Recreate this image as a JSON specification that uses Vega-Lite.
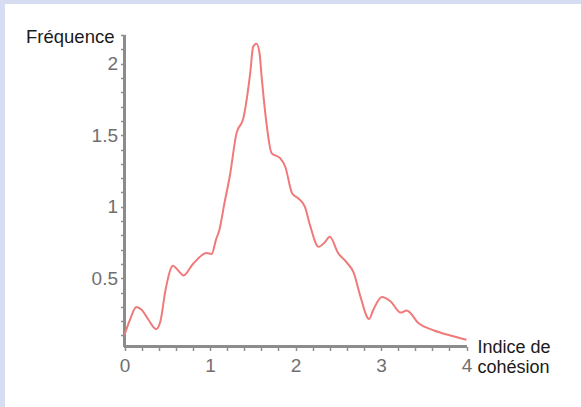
{
  "$schema": "https://vega.github.io/schema/vega-lite/v6.json",
  "width": 576,
  "height": 403,
  "autosize": {"type": "none"},
  "padding": {"left": 5, "top": 4, "right": 0, "bottom": 0},
  "background": "#d6ddf2",
  "config": {"view": {"fill": "white", "stroke": null}, "font": "Liberation Sans"},
  "data": {
    "values": [
      {"x": 0, "y": 0.105}, {"x": 0.07, "y": 0.22}, {"x": 0.137, "y": 0.3}, {"x": 0.2, "y": 0.28},
      {"x": 0.28, "y": 0.21}, {"x": 0.37, "y": 0.145}, {"x": 0.42, "y": 0.2}, {"x": 0.48, "y": 0.42},
      {"x": 0.567, "y": 0.587}, {"x": 0.62, "y": 0.56}, {"x": 0.69, "y": 0.52}, {"x": 0.8, "y": 0.6},
      {"x": 0.96, "y": 0.676}, {"x": 1.02, "y": 0.67}, {"x": 1.07, "y": 0.77}, {"x": 1.11, "y": 0.84},
      {"x": 1.17, "y": 1.03}, {"x": 1.23, "y": 1.21}, {"x": 1.31, "y": 1.515}, {"x": 1.39, "y": 1.62},
      {"x": 1.47, "y": 1.935}, {"x": 1.505, "y": 2.12}, {"x": 1.545, "y": 2.14}, {"x": 1.58, "y": 2.07},
      {"x": 1.6, "y": 1.935}, {"x": 1.66, "y": 1.585}, {"x": 1.72, "y": 1.375}, {"x": 1.82, "y": 1.34},
      {"x": 1.88, "y": 1.28}, {"x": 1.96, "y": 1.095}, {"x": 2.03, "y": 1.06}, {"x": 2.11, "y": 1.0},
      {"x": 2.17, "y": 0.87}, {"x": 2.27, "y": 0.72}, {"x": 2.34, "y": 0.75}, {"x": 2.4, "y": 0.79},
      {"x": 2.5, "y": 0.675}, {"x": 2.6, "y": 0.61}, {"x": 2.68, "y": 0.54}, {"x": 2.76, "y": 0.37},
      {"x": 2.86, "y": 0.215}, {"x": 2.91, "y": 0.28}, {"x": 3.01, "y": 0.37}, {"x": 3.11, "y": 0.34},
      {"x": 3.23, "y": 0.26}, {"x": 3.3, "y": 0.275}, {"x": 3.44, "y": 0.185}, {"x": 3.62, "y": 0.135},
      {"x": 3.81, "y": 0.1}, {"x": 4.0, "y": 0.07}
    ]
  },
  "layer": [
    {
      "mark": {"type": "rule", "color": "#8c8c8c", "strokeWidth": 2},
      "encoding": {
        "x": {
          "datum": 0, "type": "quantitative",
          "scale": {"domain": [-1.398, 5.339], "nice": false, "zero": false},
          "axis": {
            "orient": "bottom", "offset": -60.5, "domain": false, "grid": false,
            "values": [0, 0.2, 0.4, 0.6, 0.8, 1, 1.2, 1.4, 1.6, 1.8, 2, 2.2, 2.4, 2.6, 2.8, 3, 3.2, 3.4, 3.6, 3.8, 4],
            "labelExpr": "abs(datum.value-round(datum.value))<0.001 ? format(datum.value,'d') : ''",
            "tickSize": 4,
            "tickColor": "#8c8c8c", "tickWidth": 1.5,
            "labelColor": "#707070", "labelFontSize": 19, "labelPadding": 6,
            "labelFlush": false, "labelOverlap": false,
            "title": ["Indice de", "cohésion"],
            "titleX": 472, "titleY": -8, "titleAlign": "left", "titleBaseline": "top",
            "titleFontSize": 18, "titleFontWeight": "normal", "titleColor": "#1a1a1a"
          }
        },
        "x2": {"datum": 4},
        "y": {
          "datum": 0.023, "type": "quantitative",
          "scale": {"domain": [-0.4, 2.418], "nice": false, "zero": false},
          "axis": {
            "orient": "left", "offset": -119.5, "domain": false, "grid": false,
            "values": [0.1, 0.2, 0.3, 0.4, 0.5, 0.6, 0.7, 0.8, 0.9, 1, 1.1, 1.2, 1.3, 1.4, 1.5, 1.6, 1.7, 1.8, 1.9, 2, 2.1, 2.2],
            "labelExpr": "abs(datum.value*2-round(datum.value*2))<0.001 ? format(datum.value,'~g') : ''",
            "tickSize": 4,
            "tickColor": "#8c8c8c", "tickWidth": 1.5,
            "labelColor": "#707070", "labelFontSize": 19, "labelPadding": 3,
            "labelFlush": false, "labelOverlap": false,
            "title": "Fréquence", "titleAngle": 0,
            "titleX": -10.5, "titleY": 32, "titleAlign": "right", "titleBaseline": "middle",
            "titleFontSize": 18.5, "titleFontWeight": "normal", "titleColor": "#1a1a1a"
          }
        }
      }
    },
    {
      "mark": {"type": "rule", "color": "#8c8c8c", "strokeWidth": 2},
      "encoding": {
        "x": {
          "datum": 0, "type": "quantitative",
          "scale": {"domain": [-1.398, 5.339], "nice": false, "zero": false},
          "axis": {
            "orient": "bottom", "offset": -60.5, "domain": false, "grid": false,
            "values": [0, 0.2, 0.4, 0.6, 0.8, 1, 1.2, 1.4, 1.6, 1.8, 2, 2.2, 2.4, 2.6, 2.8, 3, 3.2, 3.4, 3.6, 3.8, 4],
            "labelExpr": "abs(datum.value-round(datum.value))<0.001 ? format(datum.value,'d') : ''",
            "tickSize": 4,
            "tickColor": "#8c8c8c", "tickWidth": 1.5,
            "labelColor": "#707070", "labelFontSize": 19, "labelPadding": 6,
            "labelFlush": false, "labelOverlap": false,
            "title": ["Indice de", "cohésion"],
            "titleX": 472, "titleY": -8, "titleAlign": "left", "titleBaseline": "top",
            "titleFontSize": 18, "titleFontWeight": "normal", "titleColor": "#1a1a1a"
          }
        },
        "y": {
          "datum": 0.023, "type": "quantitative",
          "scale": {"domain": [-0.4, 2.418], "nice": false, "zero": false},
          "axis": {
            "orient": "left", "offset": -119.5, "domain": false, "grid": false,
            "values": [0.1, 0.2, 0.3, 0.4, 0.5, 0.6, 0.7, 0.8, 0.9, 1, 1.1, 1.2, 1.3, 1.4, 1.5, 1.6, 1.7, 1.8, 1.9, 2, 2.1, 2.2],
            "labelExpr": "abs(datum.value*2-round(datum.value*2))<0.001 ? format(datum.value,'~g') : ''",
            "tickSize": 4,
            "tickColor": "#8c8c8c", "tickWidth": 1.5,
            "labelColor": "#707070", "labelFontSize": 19, "labelPadding": 3,
            "labelFlush": false, "labelOverlap": false,
            "title": "Fréquence", "titleAngle": 0,
            "titleX": -10.5, "titleY": 32, "titleAlign": "right", "titleBaseline": "middle",
            "titleFontSize": 18.5, "titleFontWeight": "normal", "titleColor": "#1a1a1a"
          }
        },
        "y2": {"datum": 2.2}
      }
    },
    {
      "mark": {"type": "line", "color": "#f07a7a", "strokeWidth": 2, "interpolate": "monotone"},
      "encoding": {
        "x": {
          "field": "x", "type": "quantitative",
          "scale": {"domain": [-1.398, 5.339], "nice": false, "zero": false},
          "axis": {
            "orient": "bottom", "offset": -60.5, "domain": false, "grid": false,
            "values": [0, 0.2, 0.4, 0.6, 0.8, 1, 1.2, 1.4, 1.6, 1.8, 2, 2.2, 2.4, 2.6, 2.8, 3, 3.2, 3.4, 3.6, 3.8, 4],
            "labelExpr": "abs(datum.value-round(datum.value))<0.001 ? format(datum.value,'d') : ''",
            "tickSize": 4,
            "tickColor": "#8c8c8c", "tickWidth": 1.5,
            "labelColor": "#707070", "labelFontSize": 19, "labelPadding": 6,
            "labelFlush": false, "labelOverlap": false,
            "title": ["Indice de", "cohésion"],
            "titleX": 472, "titleY": -8, "titleAlign": "left", "titleBaseline": "top",
            "titleFontSize": 18, "titleFontWeight": "normal", "titleColor": "#1a1a1a"
          }
        },
        "y": {
          "field": "y", "type": "quantitative",
          "scale": {"domain": [-0.4, 2.418], "nice": false, "zero": false},
          "axis": {
            "orient": "left", "offset": -119.5, "domain": false, "grid": false,
            "values": [0.1, 0.2, 0.3, 0.4, 0.5, 0.6, 0.7, 0.8, 0.9, 1, 1.1, 1.2, 1.3, 1.4, 1.5, 1.6, 1.7, 1.8, 1.9, 2, 2.1, 2.2],
            "labelExpr": "abs(datum.value*2-round(datum.value*2))<0.001 ? format(datum.value,'~g') : ''",
            "tickSize": 4,
            "tickColor": "#8c8c8c", "tickWidth": 1.5,
            "labelColor": "#707070", "labelFontSize": 19, "labelPadding": 3,
            "labelFlush": false, "labelOverlap": false,
            "title": "Fréquence", "titleAngle": 0,
            "titleX": -10.5, "titleY": 32, "titleAlign": "right", "titleBaseline": "middle",
            "titleFontSize": 18.5, "titleFontWeight": "normal", "titleColor": "#1a1a1a"
          }
        }
      }
    }
  ]
}
